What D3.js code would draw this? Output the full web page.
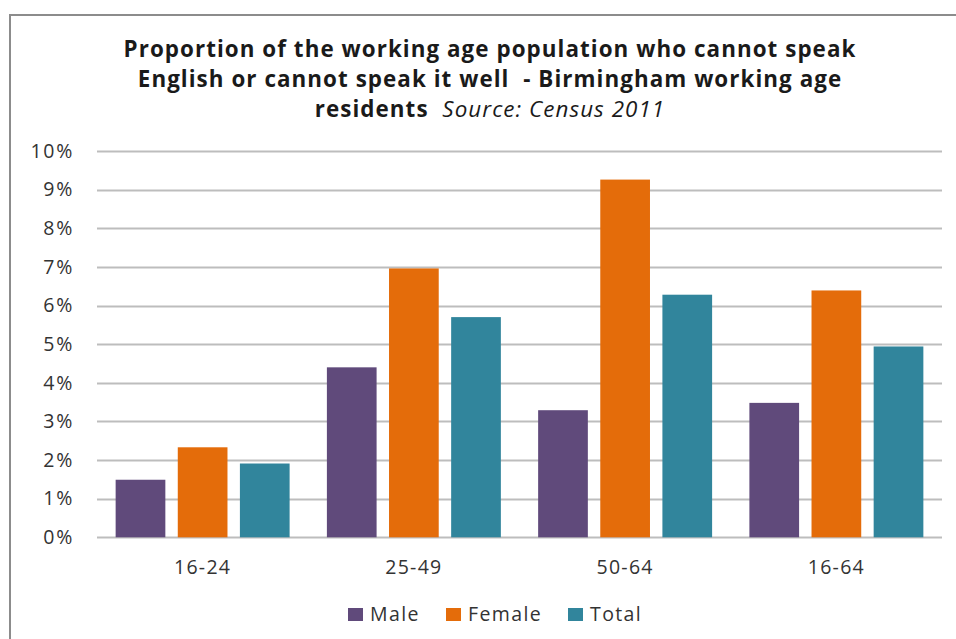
<!DOCTYPE html>
<html><head><meta charset="utf-8">
<script src="https://cdn.jsdelivr.net/npm/d3@7"></script>
<style>body{margin:0;background:#fff}svg{display:block}</style>
</head><body>
<svg id="c" width="956" height="639"></svg>
<script>
const categories = ["16-24","25-49","50-64","16-64"];
const seriesNames = ["Male","Female","Total"];
const male   = [1.49, 4.40, 3.29, 3.48];
const female = [2.33, 6.96, 9.26, 6.39];
const total  = [1.91, 5.70, 6.28, 4.94];
const yTicks = [0,1,2,3,4,5,6,7,8,9,10];
const colors = ["#604A7B","#E46C0A","#31859C"];
const titleLines = [
  [{t:"Proportion of the working age population who cannot speak"}],
  [{t:"English or cannot speak it well  - Birmingham working age"}],
  [{t:"residents  "},{t:"Source: Census 2011", it:true}]
];

const svg = d3.select("#c");
const font = "'Open Sans', 'Liberation Sans', sans-serif";
// border
svg.append("path").attr("d","M10,639 L10,15 L956,15").attr("fill","none").attr("stroke","#8c8c8c").attr("stroke-width",2);

const x0 = d3.scaleBand().domain(categories).range([97,942]).paddingInner(0).paddingOuter(0);
const x1 = d3.scaleBand().domain(seriesNames).range([0,x0.bandwidth()]).paddingInner(0.2).paddingOuter(0.3);
const y = d3.scaleLinear().domain([0,10]).range([537.3,151]);

// gridlines
svg.append("g").selectAll("line").data(yTicks).join("line")
  .attr("x1",97).attr("x2",942).attr("y1",d=>Math.round(y(d))+0.5).attr("y2",d=>Math.round(y(d))+0.5)
  .attr("stroke","#bdbdbd").attr("stroke-width",2);

// y axis labels
const yAxis = d3.axisLeft(y).tickValues(yTicks).tickFormat(d=>d+"%").tickSize(0).tickPadding(0);
const ya = svg.append("g").attr("transform","translate(74,0)").call(yAxis);
ya.select(".domain").remove();
ya.selectAll("text").attr("font-family",font).attr("font-size",19.5).attr("letter-spacing",1.7).attr("fill","#333");

// bars
const data = categories.map((c,i)=>({c, vals:[male[i],female[i],total[i]]}));
const g = svg.append("g").selectAll("g").data(data).join("g").attr("transform",d=>`translate(${x0(d.c)},0)`);
g.selectAll("rect").data(d=>d.vals.map((v,j)=>({s:seriesNames[j],v,j}))).join("rect")
  .attr("x",d=>x1(d.s)).attr("width",x1.bandwidth())
  .attr("y",d=>y(d.v)).attr("height",d=>y(0)-y(d.v))
  .attr("fill",d=>colors[d.j]);

// x axis labels
const xAxis = d3.axisBottom(x0).tickSize(0).tickPadding(0);
const xa = svg.append("g").attr("transform","translate(0,574)").call(xAxis);
xa.select(".domain").remove();
xa.selectAll("text").attr("font-family",font).attr("font-size",19.5).attr("letter-spacing",1.3).attr("fill","#333").attr("dy",0);

// title
const tt = svg.append("g");
titleLines.forEach((line,i)=>{
  const t = tt.append("text").attr("x",490).attr("y",57+i*30).attr("text-anchor","middle")
    .style("white-space","pre")
    .attr("font-family",font).attr("font-size",22.4).attr("font-weight","bold").attr("letter-spacing",1.05).attr("fill","#1a1a1a");
  line.forEach(s=>t.append("tspan").text(s.t).attr("font-style",s.it?"italic":null).attr("font-weight",s.it?"normal":null));
});

// legend
const legX = [348,446,568];
const lg = svg.append("g").selectAll("g").data(seriesNames).join("g").attr("transform",(d,i)=>`translate(${legX[i]},608)`);
lg.append("rect").attr("width",15).attr("height",13).attr("fill",(d,i)=>colors[i]);
lg.append("text").attr("x",22).attr("y",13).text(d=>d).attr("font-family",font).attr("font-size",19.5).attr("letter-spacing",1.4).attr("fill","#333");
</script>
</body></html>
